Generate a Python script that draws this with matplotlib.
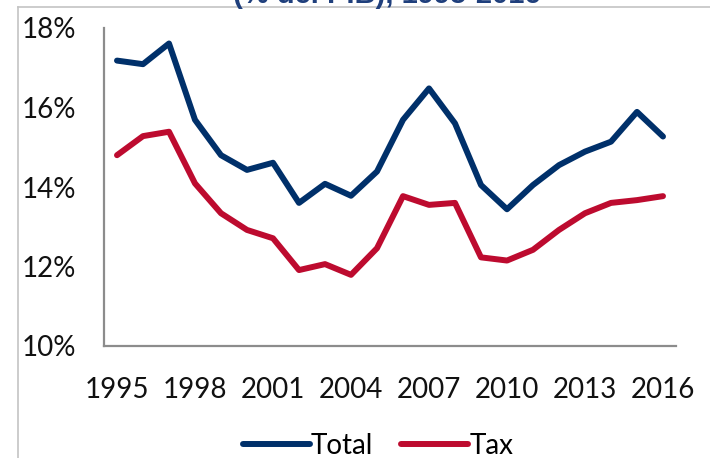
import numpy as np
import matplotlib
matplotlib.use('Agg')
import matplotlib.pyplot as plt
from matplotlib.lines import Line2D
from matplotlib.ticker import FuncFormatter

plt.rcParams['font.family'] = ['Lato', 'DejaVu Sans']

# 数据
years = list(range(1995, 2017))
total = [17.18, 17.09, 17.61, 15.69, 14.80, 14.43, 14.61, 13.60, 14.08, 13.78, 14.39,
         15.69, 16.48, 15.60, 14.05, 13.44, 14.05, 14.55, 14.89, 15.14, 15.89, 15.27]
tax = [14.80, 15.28, 15.39, 14.09, 13.34, 12.92, 12.71, 11.91, 12.06, 11.79, 12.46,
       13.77, 13.55, 13.60, 12.23, 12.15, 12.42, 12.92, 13.34, 13.60, 13.67, 13.77]
xticks = [1995, 1998, 2001, 2004, 2007, 2010, 2013, 2016]
yticks = [10, 12, 14, 16, 18]

W, H = 710, 458
fig = plt.figure(figsize=(W / 100, H / 100), dpi=100)
ax = fig.add_axes([104 / W, 1 - 346 / H, (676 - 104) / W, (346 - 28) / H])

ax.plot(years, total, color='#00306a', linewidth=4.3, solid_capstyle='round', label='Total')
ax.plot(years, tax, color='#bd0b2f', linewidth=4.3, solid_capstyle='round', label='Tax')

ax.set_xlim(1994.5, 2016.5)
ax.set_ylim(10, 18)
ax.set_xticks(xticks)
ax.set_yticks(yticks)
ax.yaxis.set_major_formatter(FuncFormatter(lambda v, p: f'{v:.0f}%'))
ax.tick_params(length=0, labelsize=20, colors='#111111')
ax.tick_params(axis='y', pad=20)
ax.tick_params(axis='x', pad=22)
for s in ['top', 'right']:
    ax.spines[s].set_visible(False)
for s in ['left', 'bottom']:
    ax.spines[s].set_color('#8c8c8c')
    ax.spines[s].set_linewidth(1.6)

fig.legend(loc='center', bbox_to_anchor=(378 / W, 1 - 446 / H), ncol=2, frameon=False,
           fontsize=20, handlelength=2.4, handletextpad=0.05, columnspacing=1.0,
           borderpad=0, borderaxespad=0)

# 外框和被截断的标题
fig.add_artist(Line2D([18 / W, 1], [1 - 7 / H, 1 - 7 / H], color='#c4c4c4', linewidth=1.2))
fig.add_artist(Line2D([18 / W, 18 / W], [0, 1 - 7 / H], color='#c4c4c4', linewidth=1.2))
fig.text(387 / W, 1 - 9 / H, '(% del PIB), 1995-2016', ha='center', va='bottom',
         fontsize=21, fontweight='bold', color='#1f3f7c', family='Liberation Sans')

fig.savefig('out.png', dpi=100)
